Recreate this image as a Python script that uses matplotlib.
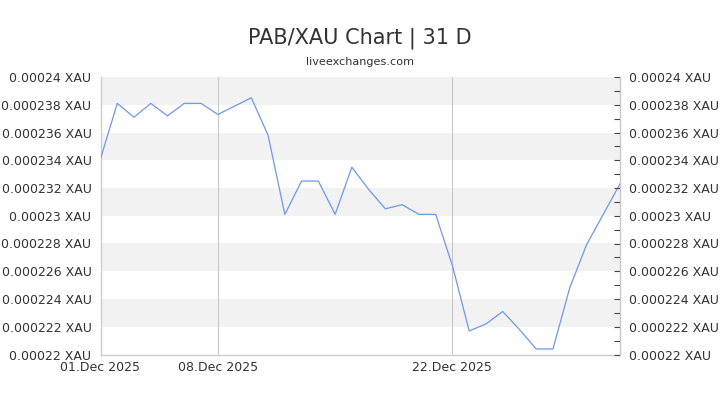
import datetime as dt

import matplotlib
matplotlib.use("Agg")
import matplotlib.pyplot as plt
from matplotlib.ticker import FixedLocator, MultipleLocator

# PAB/XAU daily rate, 01 Dec 2025 .. 01 Jan 2026
start = dt.date(2025, 12, 1)
rates = [
    0.0002341, 0.0002381, 0.0002371, 0.0002381, 0.0002372, 0.0002381, 0.0002381, 0.0002373,
    0.0002379, 0.0002385, 0.0002358, 0.0002301, 0.0002325, 0.0002325, 0.0002301, 0.0002335,
    0.0002319, 0.0002305, 0.0002308, 0.0002301, 0.0002301, 0.0002264, 0.0002217, 0.0002222,
    0.0002231, 0.0002218, 0.0002204, 0.0002204, 0.0002248, 0.0002279, 0.0002301, 0.0002323,
]
dates = [start + dt.timedelta(days=i) for i in range(len(rates))]

ytick_vals = [0.00022, 0.000222, 0.000224, 0.000226, 0.000228, 0.00023,
              0.000232, 0.000234, 0.000236, 0.000238, 0.00024]
ytick_labels = ["0.00022 XAU", "0.000222 XAU", "0.000224 XAU", "0.000226 XAU",
                "0.000228 XAU", "0.00023 XAU", "0.000232 XAU", "0.000234 XAU",
                "0.000236 XAU", "0.000238 XAU", "0.00024 XAU"]
xtick_dates = [dt.date(2025, 12, 1), dt.date(2025, 12, 8), dt.date(2025, 12, 22)]
xtick_labels = ["01.Dec 2025", "08.Dec 2025", "22.Dec 2025"]

TEXT = "#333333"
EDGE = "#cccccc"

fig = plt.figure(figsize=(7.2, 4.05), dpi=100)
ax = fig.add_axes([100.5 / 720, 1 - 354.5 / 405, 519.5 / 720, 277.5 / 405])

ymin, ymax = ytick_vals[0], ytick_vals[-1]
ax.set_ylim(ymin, ymax)
ax.set_xlim(dates[0], dates[-1])

# alternating bands, shaded from the top down
for i in range(len(ytick_vals) - 1):
    lo, hi = ytick_vals[i], ytick_vals[i + 1]
    if i % 2 == 1:
        ax.axhspan(lo, hi, color="#f2f2f2", lw=0, zorder=0)

for d in xtick_dates[1:]:
    ax.axvline(d, color="#c8c8c8", lw=0.8, zorder=1)

ax.plot(dates, rates, color="#7097ea", lw=0.9, zorder=3)

ax.set_yticks(ytick_vals)
ax.set_yticklabels(ytick_labels, fontsize=9, color=TEXT)
ax.tick_params(axis="y", length=0, pad=6.5)

ax.set_xticks(xtick_dates)
ax.set_xticklabels(xtick_labels, fontsize=9, color=TEXT)
ax.tick_params(axis="x", length=0, pad=5)

for side in ("left", "bottom", "right"):
    ax.spines[side].set_color(EDGE)
    ax.spines[side].set_linewidth(1.0)
ax.spines["top"].set_visible(False)

ax2 = ax.twinx()
ax2.set_ylim(ymin, ymax)
ax2.yaxis.set_major_locator(FixedLocator(ytick_vals))
ax2.set_yticklabels(ytick_labels, fontsize=9, color=TEXT)
ax2.yaxis.set_minor_locator(MultipleLocator(0.000001))
ax2.tick_params(axis="y", which="both", direction="in", length=4, color="#444444", pad=6.5, width=0.8)
for side in ("left", "top", "bottom"):
    ax2.spines[side].set_visible(False)
ax2.spines["right"].set_color(EDGE)

fig.text(0.5, 1 - 38 / 405, "PAB/XAU Chart | 31 D", ha="center", va="center",
         fontsize=15, color=TEXT)
fig.text(0.5, 1 - 62 / 405, "liveexchanges.com", ha="center", va="center",
         fontsize=8.1, color=TEXT)

fig.savefig("out.png", dpi=100)
